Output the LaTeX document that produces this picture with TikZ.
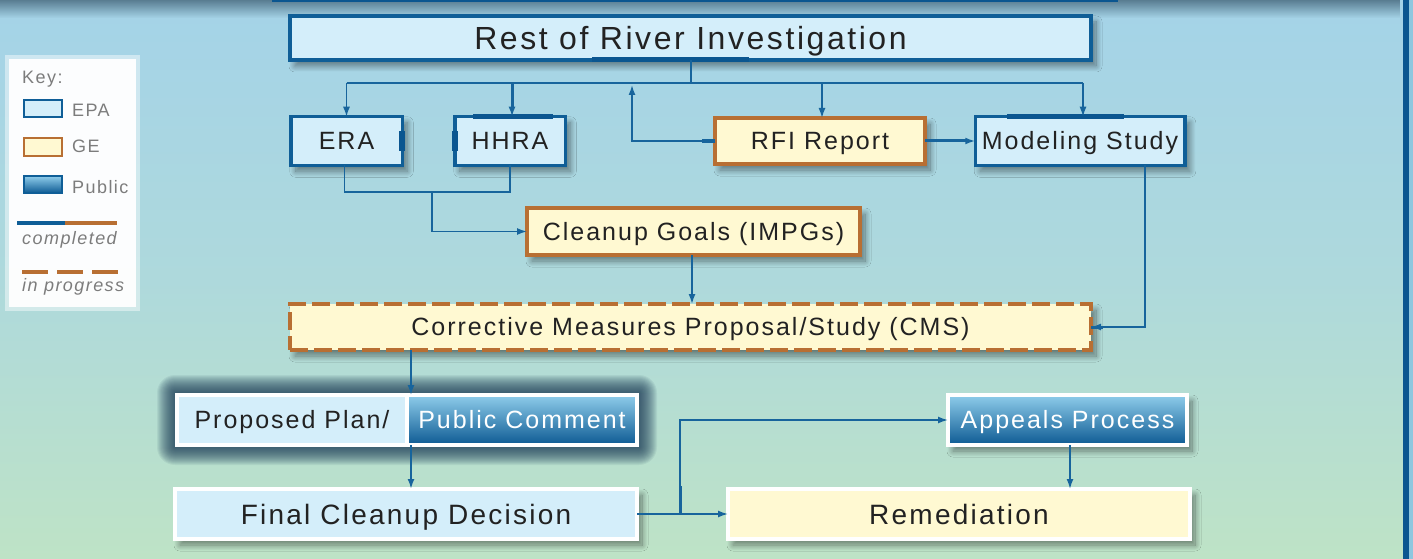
\documentclass[tikz,border=0pt]{standalone}
\usepackage{fontspec}
\setmainfont{Liberation Sans}[LetterSpace=8]
\usetikzlibrary{arrows.meta,shadows.blur,fadings,calc}

\definecolor{bgtop}{HTML}{A4D3E8}
\definecolor{bgmid}{HTML}{AED9DC}
\definecolor{bgbot}{HTML}{BEE3C6}
\definecolor{epaline}{HTML}{0F5E97}
\definecolor{epadark}{HTML}{0B5690}
\definecolor{epafill}{HTML}{D4EEFA}
\definecolor{geline}{HTML}{B86F33}
\definecolor{gefill}{HTML}{FFF9D2}
\definecolor{pubtop}{HTML}{8FCDEB}
\definecolor{pubbot}{HTML}{0D5A93}
\definecolor{linec}{HTML}{17649C}
\definecolor{ink}{HTML}{222222}
\definecolor{keyink}{HTML}{7C7C7C}
\definecolor{topsh}{HTML}{4C6E82}
\definecolor{edgestrip}{HTML}{8EC7DF}
\definecolor{halo}{HTML}{1B3A56}

\newcommand\fsz[1]{\fontsize{#1}{#1}\selectfont}

\tikzset{
  box/.style={draw, line width=4pt, inner sep=0pt, outer sep=0pt,
    font=\fsz{25}, text=ink, align=center,
    text height=21.5pt, text depth=3.6pt},
  big/.style={font=\fsz{32}, text height=27.5pt, text depth=4.6pt},
  mid/.style={font=\fsz{28}, text height=24.1pt, text depth=4pt},
  dropsh/.style={blur shadow={shadow xshift=5pt, shadow yshift=-6pt,
    shadow blur radius=6pt, shadow opacity=45, shadow blur steps=20}},
  epa/.style={box, draw=epaline, fill=epafill, dropsh},
  ge/.style={box, draw=geline, fill=gefill, dropsh},
  wepa/.style={box, draw=white, fill=epafill},
  wge/.style={box, draw=white, fill=gefill},
  pub/.style={box, draw=white, top color=pubtop, bottom color=pubbot, text=white},
  conn/.style={draw=linec, line width=1.6pt},
  tip/.style={-{Latex[length=10pt,width=7pt]}},
  keytxt/.style={font=\fsz{18}, text=keyink, inner sep=0pt, anchor=base west},
  swatch/.style={line width=2pt, inner sep=0pt, minimum width=38pt, minimum height=17pt},
}

\begin{document}
\begin{tikzpicture}[x=1pt,y=-1pt]
\useasboundingbox (0,0) rectangle (1413,559);

% background
\shade[top color=bgtop, bottom color=bgbot, middle color=bgmid] (0,0) rectangle (1413,559);
\fill[topsh, path fading=south, opacity=0.85] (0,0) rectangle (1400,18);
\fill[epadark] (272,0) rectangle (1118,2.5);
\fill[epadark] (1403,0) rectangle (1409,559);
\fill[edgestrip] (1409,0) rectangle (1413,559);

% key
\fill[white, opacity=0.45] (5,55) rectangle (140,311);
\fill[white, opacity=0.95] (9,59) rectangle (136,307);
\node[keytxt] (keyhead) at (22,84) {Key:};
\node[swatch, draw=epaline, fill=epafill] (kepa) at (43,108.5) {};
\node[keytxt] (kepatxt) at (72,117) {EPA};
\node[swatch, draw=geline, fill=gefill] (kge) at (43,147) {};
\node[keytxt] (kgetxt) at (72,153) {GE};
\node[swatch, draw=epaline, top color=pubtop, bottom color=pubbot] (kpub) at (43,184.5) {};
\node[keytxt] (kpubtxt) at (72,193) {Public};
\coordinate (kc1) at (17,223);
\coordinate (kc2) at (65,223);
\coordinate (kc3) at (117,223);
\draw[epaline, line width=3.5pt] (kc1) -- (kc2);
\draw[geline, line width=3.5pt] (kc2) -- (kc3);
\node[keytxt, font=\fsz{18}\itshape] (kcomp) at (22,244) {completed};
\coordinate (kp1) at (22,272);
\coordinate (kp2) at (118,272);
\draw[geline, line width=3.5pt, dash pattern=on 26pt off 9pt] (kp1) -- (kp2);
\node[keytxt, font=\fsz{18}\itshape] (kprog) at (22,291) {in progress};

% soft dark glow behind the proposed plan pair
\foreach \i in {1,...,18}
  \fill[halo, opacity=0.07, rounded corners=\i pt]
    ($(175,393)+(-\i,-\i)$) rectangle ($(639,447)+(\i,\i)$);

% boxes
\node[epa, big, minimum width=801pt, minimum height=44pt] (rest) at (690.5,38) {Rest of River Investigation};
\node[epa, line width=3.5pt, minimum width=111.5pt, minimum height=48.5pt] (era) at (346.5,141) {ERA};
\node[epa, line width=3.5pt, minimum width=110.5pt, minimum height=48.5pt] (hhra) at (510,141) {HHRA};
\node[ge, minimum width=210pt, minimum height=46pt] (rfi) at (820,141) {RFI Report};
\node[epa, line width=3.5pt, minimum width=209.5pt, minimum height=48.5pt] (model) at (1080,141) {Modeling Study};
\node[ge, minimum width=333pt, minimum height=47pt] (goals) at (693.5,231.5) {Cleanup Goals (IMPGs)};
\node[ge, dash pattern=on 18pt off 6pt, minimum width=801pt, minimum height=46pt] (cms) at (690.5,327) {Corrective Measures Proposal/Study (CMS)};
\node[wepa, minimum width=230pt, minimum height=50pt] (ppl) at (292,420) {Proposed Plan/};
\node[pub, minimum width=230pt, minimum height=50pt] (ppr) at (522,420) {Public Comment};
\node[wepa, dropsh, mid, minimum width=462pt, minimum height=50pt] (fcd) at (406,514) {Final Cleanup Decision};
\node[pub, dropsh, minimum width=239pt, minimum height=50pt] (appeals) at (1067.5,420) {Appeals Process};
\node[wge, dropsh, mid, minimum width=462pt, minimum height=50pt] (remed) at (959,514) {Remediation};

% heavier stretches on finished borders
\draw[epadark, line width=5pt] ([xshift=-98.5pt]rest.south) -- ([xshift=58.5pt]rest.south);
\draw[epadark, line width=6pt] ([yshift=9.5pt]era.east) -- ([yshift=-9.5pt]era.east);
\draw[epadark, line width=6pt] ([yshift=9.5pt]hhra.west) -- ([yshift=-9.5pt]hhra.west);
\draw[epadark, line width=5pt] ([xshift=-37pt]hhra.north) -- ([xshift=43pt]hhra.north);
\draw[epadark, line width=5pt] ([xshift=-73pt]model.north) -- ([xshift=44pt]model.north);

% connectors from the investigation
\coordinate (bus) at (691,83);
\coordinate (aE) at (era.north);
\coordinate (aH) at ([xshift=2pt]hhra.north);
\coordinate (aR) at ([xshift=2pt]rfi.north);
\coordinate (aM) at ([xshift=3pt]model.north);
\draw[conn] (bus |- rest.south) -- (bus);
\draw[conn] (bus -| aE) -- (bus -| aM);
\draw[conn, tip] (bus -| aE) -- (aE);
\draw[conn, tip] (bus -| aR) -- (aR);
\draw[conn, tip] (bus -| aM) -- (aM);
\draw[conn, line width=3pt, tip] (bus -| aH) -- (aH);

% RFI report links
\draw[conn, tip] (rfi.west) -| ($(bus)+(-59,2)$);
\draw[linec, line width=3.5pt] (rfi.west) -- ++(-13,0);
\draw[conn, line width=3pt, tip] (rfi.east) -- (rfi.east -| model.west);

% risk assessments to cleanup goals
\coordinate (join) at (432,192);
\draw[conn] ([xshift=-2pt]era.south) |- (join) -| (hhra.south);
\draw[conn, tip] (join) |- (goals.west);

% into the corrective measures study
\draw[conn, tip] ([xshift=-1.5pt]goals.south) -- ([xshift=-1.5pt]goals.south |- cms.north);
\draw[conn, tip] ([xshift=65pt]model.south) |- (cms.east);
\draw[linec, line width=3pt] (cms.east) -- ++(12,0);

% decision path
\coordinate (pc) at ([xshift=4pt]ppr.north west);
\coordinate (pd) at ([xshift=4pt]ppr.south west);
\draw[conn, tip] (cms.south -| pc) -- (pc);
\draw[conn, line width=2.2pt, tip] (pd) -- (pd |- fcd.north);
\draw[conn, tip] (fcd.east) -- (remed.west);
\coordinate (br) at ($(fcd.east)+(43,0)$);
\draw[conn, tip] (br) |- (appeals.west);
\draw[linec, line width=3pt] (br) -- ++(0,-28);
\draw[conn, tip] ([xshift=2.5pt]appeals.south) -- ([xshift=2.5pt]appeals.south |- remed.north);
\end{tikzpicture}
\end{document}
